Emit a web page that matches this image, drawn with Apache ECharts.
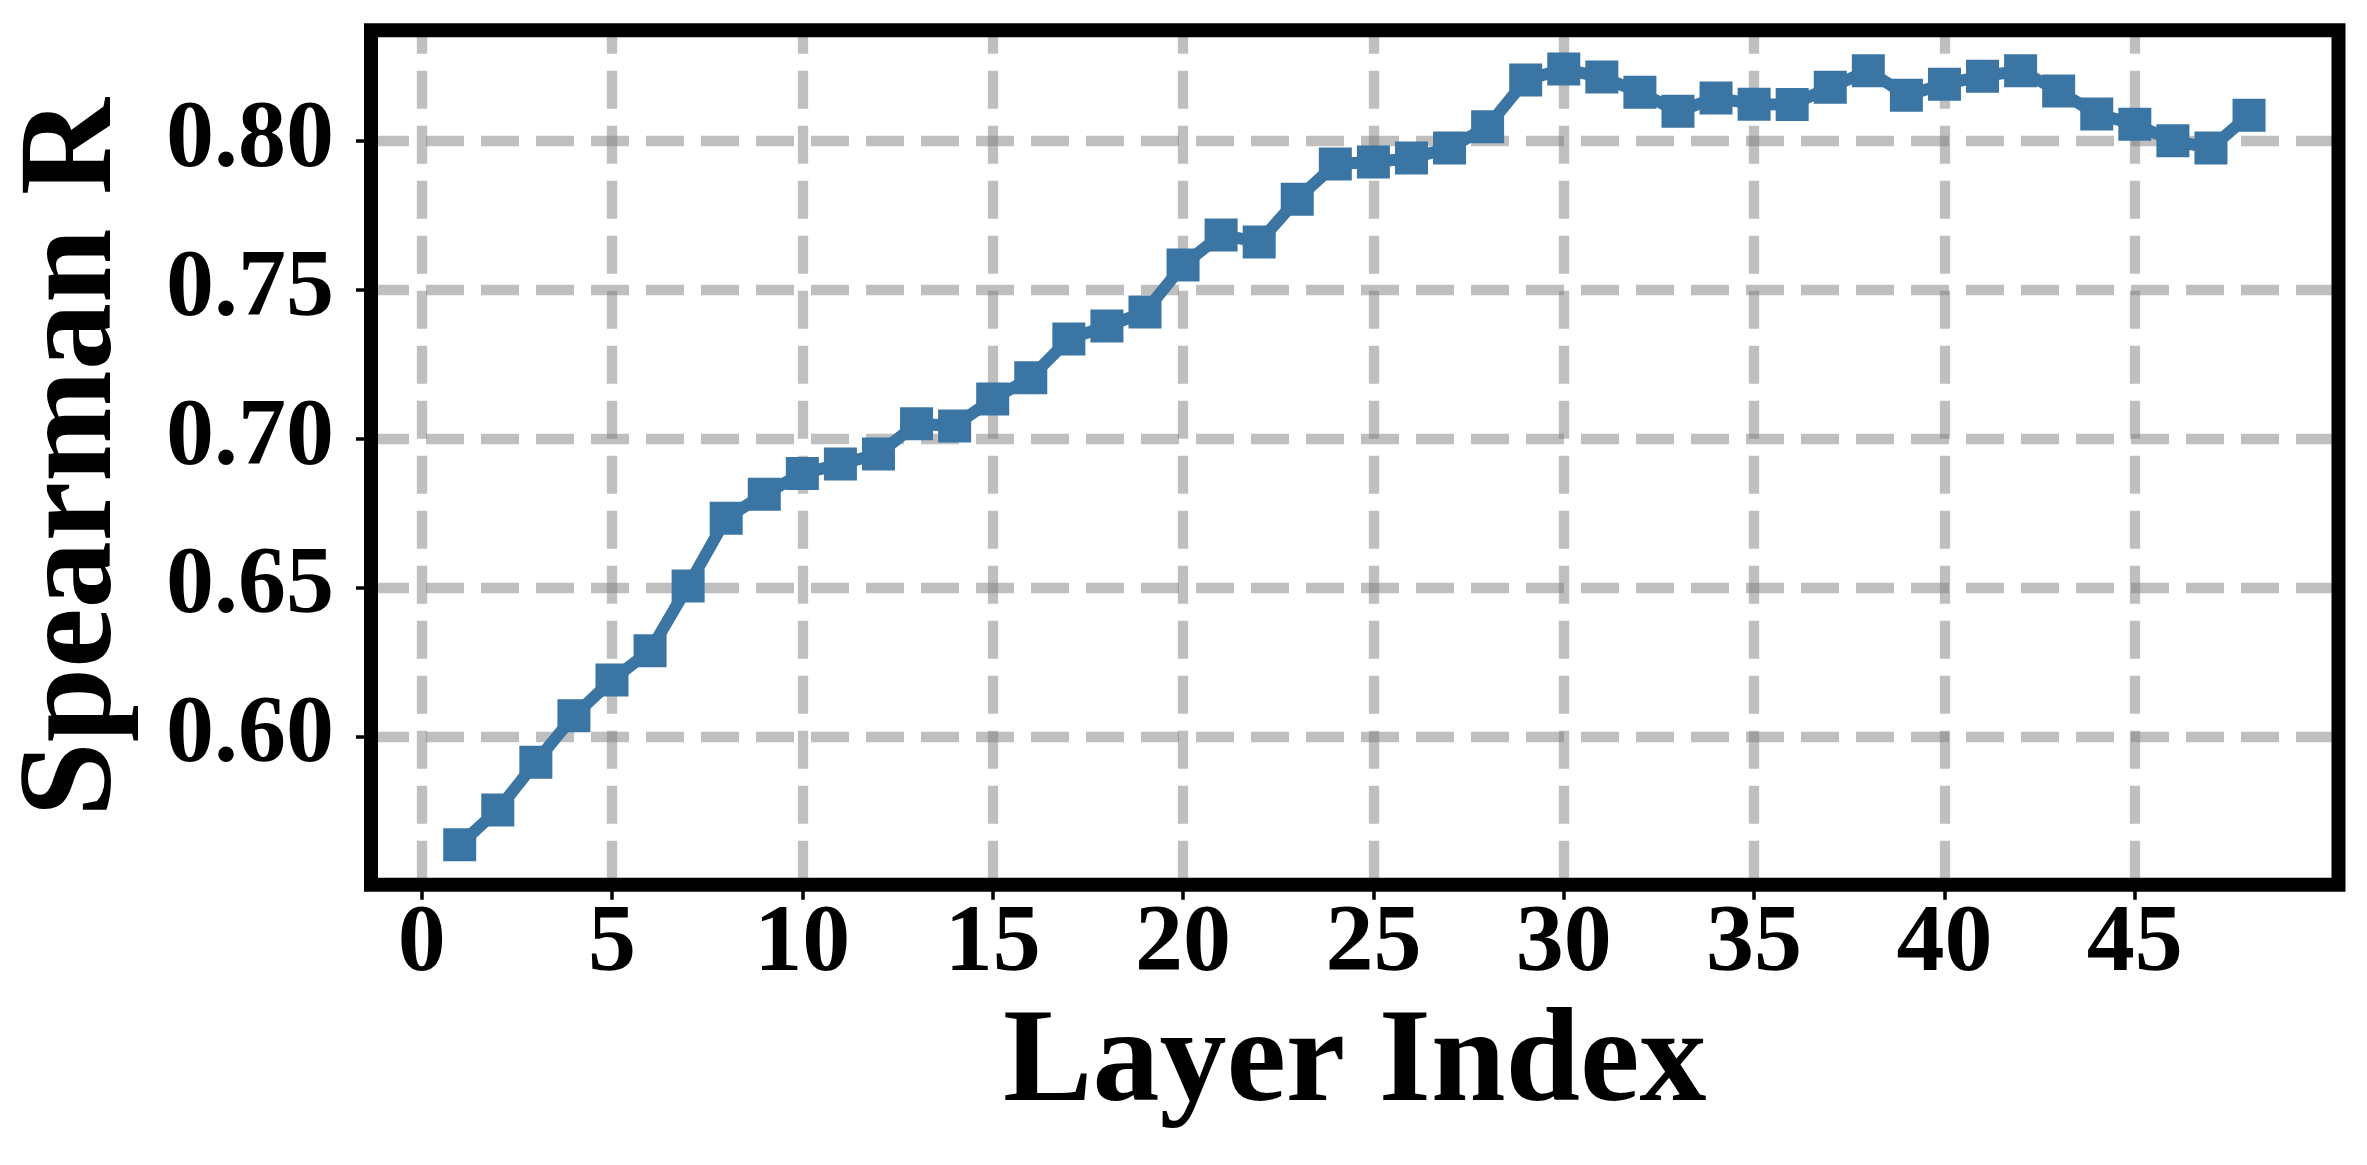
<!DOCTYPE html>
<html>
<head>
<meta charset="utf-8">
<script src="https://cdn.jsdelivr.net/npm/echarts@6/dist/echarts.min.js"></script>
<style>
html,body{margin:0;padding:0;background:#fff;}
#chart{width:2367px;height:1165px;}
</style>
</head>
<body>
<div id="chart"></div>
<script>
const layers = [1,2,3,4,5,6,7,8,9,10,11,12,13,14,15,16,17,18,19,20,21,22,23,24,25,26,27,28,29,30,31,32,33,34,35,36,37,38,39,40,41,42,43,44,45,46,47,48];
const spearman = [0.5637,0.5754,0.5914,0.6070,0.6190,0.6288,0.6506,0.6733,0.6814,0.6883,0.6915,0.6949,0.7050,0.7043,0.7133,0.7205,0.7335,0.7378,0.7425,0.7583,0.7684,0.7660,0.7804,0.7922,0.7929,0.7942,0.7976,0.8047,0.8204,0.8241,0.8214,0.8163,0.8099,0.8144,0.8123,0.8122,0.8180,0.8235,0.8153,0.8190,0.8217,0.8235,0.8167,0.8090,0.8056,0.8000,0.7976,0.8086];
const xTicks = [0,5,10,15,20,25,30,35,40,45];
const yTicks = [0.60,0.65,0.70,0.75,0.80];
const xTitle = 'Layer Index';
const yTitle = 'Spearman R';

const FONT = "'Liberation Serif','Times New Roman',serif";
const gridColor = 'rgba(128,128,128,0.5)';

const chart = echarts.init(document.getElementById('chart'), null, {renderer:'canvas'});
chart.setOption({
  animation: false,
  backgroundColor: '#fff',
  grid: {
    left: 371, right: 28.5, top: 30.3, bottom: 280.3,
    show: true, borderColor: '#000', borderWidth: 14, backgroundColor: 'transparent',
    z: 10
  },
  xAxis: {
    type: 'value',
    min: -1.33, max: 50.35,
    name: xTitle,
    nameLocation: 'middle',
    nameGap: 109,
    nameTextStyle: {fontFamily: FONT, fontWeight: 'bold', fontSize: 134, color: '#000'},
    axisLine: {show: false, onZero: false},
    axisTick: {show: true, length: 15, inside: false, lineStyle: {color: '#000', width: 3.5}, customValues: xTicks},
    axisLabel: {show: true, margin: 13, fontFamily: FONT, fontWeight: 'bold', fontSize: 96, color: '#000', customValues: xTicks, hideOverlap: false},
    splitLine: {show: true, lineStyle: {color: gridColor, width: 10.3, type: [38, 17], dashOffset: 14.6}}
  },
  yAxis: {
    type: 'value',
    min: 0.5503, max: 0.8371,
    name: yTitle,
    nameLocation: 'middle',
    nameGap: 229,
    nameTextStyle: {fontFamily: FONT, fontWeight: 'bold', fontSize: 134, color: '#000'},
    axisLine: {show: false, onZero: false},
    axisTick: {show: true, length: 15, inside: false, lineStyle: {color: '#000', width: 3.5}, customValues: yTicks},
    axisLabel: {show: true, margin: 37, fontFamily: FONT, fontWeight: 'bold', fontSize: 96, color: '#000', customValues: yTicks, hideOverlap: false,
      formatter: v => Number(v).toFixed(2)},
    splitLine: {show: true, lineStyle: {color: gridColor, width: 10.3, type: [38, 17], dashOffset: 0}}
  },
  series: [{
    type: 'line',
    data: layers.map((l, i) => [l, spearman[i]]),
    symbol: 'rect',
    symbolSize: 33,
    showAllSymbol: true,
    lineStyle: {color: '#3a75a4', width: 12},
    itemStyle: {color: '#3a75a4'},
    z: 3
  }]
});
</script>
</body>
</html>
